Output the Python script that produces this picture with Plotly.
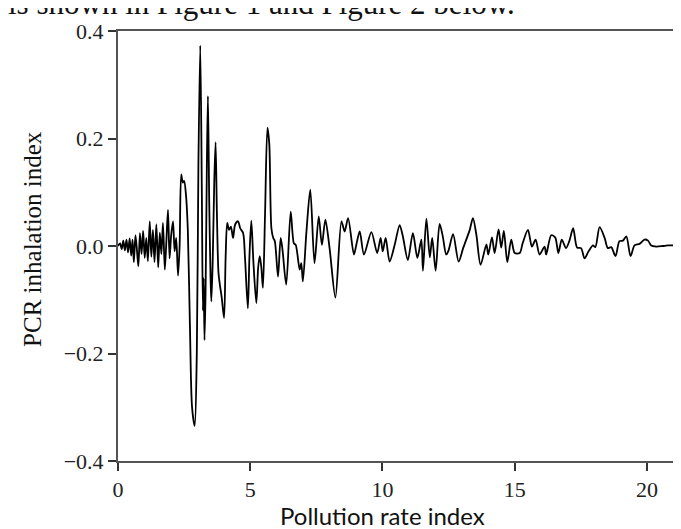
import plotly.graph_objects as go

# signal, by eye
x_vals = [
    0.00, 0.08, 0.14, 0.20, 0.26, 0.32, 0.38, 0.44, 0.50, 0.55, 0.60, 0.66, 0.72, 0.77,
    0.83, 0.89, 0.95, 1.01, 1.07, 1.13, 1.20, 1.26, 1.32, 1.38, 1.45, 1.52, 1.58, 1.64,
    1.70, 1.77, 1.83, 1.89, 1.95, 2.01, 2.08, 2.14, 2.20, 2.27, 2.33, 2.39, 2.45, 2.50,
    2.57, 2.64, 2.72, 2.80, 2.90, 2.98, 3.04, 3.11, 3.17, 3.21, 3.24, 3.27, 3.31, 3.36,
    3.40, 3.45, 3.50, 3.53, 3.58, 3.64, 3.69, 3.74, 3.80, 3.86, 3.92, 4.01, 4.07, 4.13,
    4.20, 4.27, 4.35, 4.43, 4.54, 4.62, 4.73, 4.80, 4.91, 4.97, 5.04, 5.12, 5.23, 5.30,
    5.36, 5.42, 5.48, 5.56, 5.65, 5.72, 5.80, 5.87, 5.93, 6.05, 6.15, 6.22, 6.36, 6.53,
    6.65, 6.72, 6.87, 6.93, 6.99, 7.13, 7.27, 7.43, 7.59, 7.71, 7.84, 8.00, 8.22, 8.45,
    8.57, 8.70, 8.92, 9.01, 9.14, 9.30, 9.58, 9.80, 9.93, 10.01, 10.12, 10.27, 10.46,
    10.65, 10.77, 10.96, 11.15, 11.32, 11.47, 11.53, 11.66, 11.79, 11.88, 12.01, 12.16,
    12.28, 12.41, 12.50, 12.67, 12.88, 13.05, 13.30, 13.42, 13.55, 13.71, 13.93, 14.00,
    14.14, 14.24, 14.39, 14.49, 14.59, 14.72, 14.87, 15.00, 15.19, 15.30, 15.50, 15.65,
    15.79, 15.94, 16.13, 16.19, 16.38, 16.53, 16.65, 16.78, 16.94, 17.07, 17.21, 17.36,
    17.51, 17.64, 17.79, 17.96, 18.05, 18.21, 18.40, 18.52, 18.65, 18.81, 18.96, 19.09,
    19.22, 19.38, 19.53, 19.72, 19.91, 20.04, 20.16, 20.35, 20.60, 20.79, 21.00,
]
y_vals = [
    0.000, 0.005, -0.006, 0.010, -0.008, 0.012, -0.012, 0.014, -0.018, 0.012, -0.030, 0.020, -0.010, -0.038,
    0.024, -0.015, 0.028, -0.022, 0.015, -0.028, 0.046, -0.020, 0.030, -0.030, 0.040, -0.040, 0.025, -0.015,
    0.043, -0.044, 0.010, 0.067, -0.023, 0.020, 0.046, -0.010, 0.015, -0.055, 0.000, 0.133, 0.118, 0.121,
    0.095, 0.030, -0.150, -0.300, -0.335, -0.200, 0.150, 0.373, 0.100, -0.120, -0.060, -0.175, -0.090, 0.150,
    0.279, 0.080, -0.060, -0.103, -0.030, 0.120, 0.193, 0.060, -0.050, -0.075, -0.095, -0.134, -0.020, 0.043,
    0.030, 0.036, 0.015, 0.040, 0.046, 0.033, 0.024, -0.020, -0.116, -0.020, 0.047, -0.030, -0.106, -0.040,
    -0.019, -0.040, -0.078, 0.060, 0.220, 0.190, 0.033, 0.015, 0.009, -0.057, 0.015, -0.007, -0.072, 0.064,
    0.005, 0.002, -0.044, -0.032, -0.066, 0.030, 0.105, -0.032, 0.055, 0.002, 0.049, -0.004, -0.096, 0.046,
    0.027, 0.052, -0.016, 0.002, 0.027, -0.016, 0.026, -0.013, 0.015, -0.010, 0.015, -0.029, 0.002,
    0.039, 0.018, -0.026, 0.024, -0.022, 0.012, -0.046, 0.051, -0.021, 0.015, -0.046, 0.041,
    0.018, -0.016, -0.008, 0.022, -0.029, -0.004, 0.030, 0.052, 0.021, -0.035, 0.003, -0.016,
    0.016, -0.013, 0.031, -0.003, 0.028, -0.030, 0.012, -0.013, -0.013, 0.005, 0.030, -0.001,
    0.012, -0.016, -0.001, -0.016, 0.020, 0.016, -0.013, 0.012, -0.004, 0.010, 0.033, -0.003,
    -0.004, -0.023, -0.010, 0.001, -0.002, 0.035, 0.015, -0.004, -0.002, -0.019, 0.009, 0.010,
    0.018, -0.019, 0.001, 0.004, 0.012, 0.010, 0.001, -0.001, 0.000, 0.001, 0.001,
]

x_ticks = [0, 5, 10, 15, 20]
y_ticks = [-0.4, -0.2, 0.0, 0.2, 0.4]
y_tick_text = ["\u22120.4", "\u22120.2", "0.0", "0.2", "0.4"]

fig = go.Figure()
fig.add_trace(go.Scatter(
    x=x_vals, y=y_vals, mode="lines",
    line=dict(color="black", width=1.8, shape="spline", smoothing=0.8),
    showlegend=False,
))

serif = "Liberation Serif, Times New Roman, serif"

fig.update_layout(
    width=681, height=529,
    margin=dict(l=110, r=0, t=23, b=76),
    paper_bgcolor="white", plot_bgcolor="white",
    xaxis=dict(
        range=[0, 21.59], tickvals=x_ticks, ticks="outside", ticklen=8, tickwidth=1.5,
        tickcolor="#333", showline=True, linecolor="#555", linewidth=2, mirror=True,
        showgrid=False, zeroline=False,
        tickfont=dict(family=serif, size=22, color="#222"),
    ),
    yaxis=dict(
        range=[-0.4, 0.4], tickvals=y_ticks, ticktext=y_tick_text, ticks="outside",
        ticklen=8, tickwidth=1.5, tickcolor="#333", showline=True, linecolor="#555",
        linewidth=2, showgrid=False, zeroline=False,
        tickfont=dict(family=serif, size=22, color="#222"),
    ),
)

fig.add_annotation(
    text="PCR inhalation index", textangle=-90, showarrow=False,
    xref="paper", yref="paper", x=-0.151, y=0.516, xanchor="center", yanchor="middle",
    font=dict(family=serif, size=25, color="#111"),
)
fig.add_annotation(
    text="Pollution rate index", showarrow=False,
    xref="x", yref="paper", x=10, y=-0.126, xanchor="center", yanchor="middle",
    font=dict(family="Lato, Carlito, sans-serif", size=24, color="#111"),
)
# caption line from the page above the figure, mostly cut off at the top
fig.add_annotation(
    text="is shown in Figure 1 and Figure 2 below.", showarrow=False,
    xref="paper", yref="paper", x=-0.196, y=1.063, xanchor="left", yanchor="middle",
    font=dict(family=serif, size=31, color="#111"),
)

fig.write_html("out.html")
